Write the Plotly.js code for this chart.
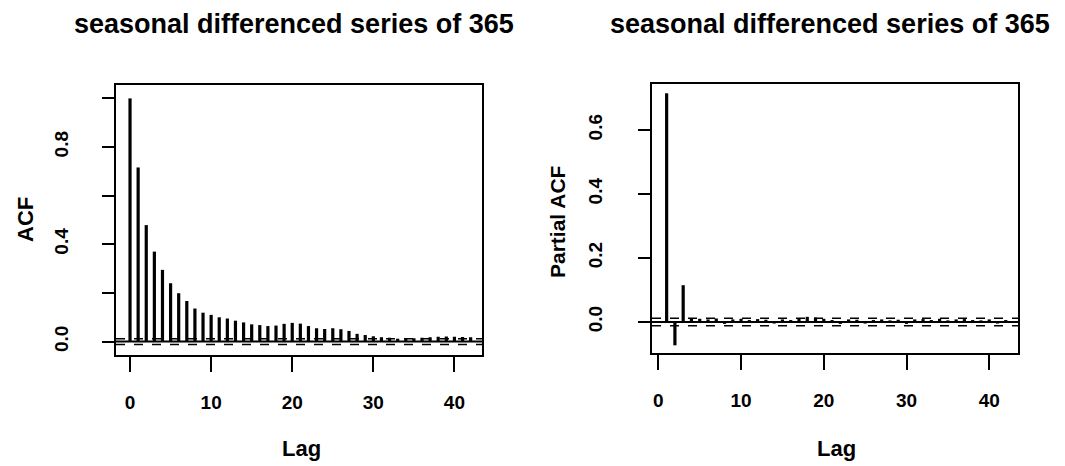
<!DOCTYPE html>
<html>
<head>
<meta charset="utf-8">
<script src="https://cdn.plot.ly/plotly-3.0.1.min.js"></script>
<style>html,body{margin:0;padding:0;background:#fff;}#chart{width:1065px;height:466px;}</style>
</head>
<body>
<div id="chart"></div>
<script>
// ---- data ----
const acfLags = [0,1,2,3,4,5,6,7,8,9,10,11,12,13,14,15,16,17,18,19,20,21,22,23,24,25,26,27,28,29,30,31,32,33,34,35,36,37,38,39,40,41,42];
const acfValues = [1.0,0.716,0.479,0.370,0.295,0.240,0.199,0.167,0.136,0.119,0.110,0.100,0.095,0.086,0.079,0.071,0.068,0.064,0.066,0.073,0.077,0.074,0.064,0.055,0.052,0.055,0.051,0.044,0.032,0.027,0.022,0.018,0.016,0.012,0.012,0.014,0.016,0.018,0.020,0.021,0.020,0.019,0.018];
const pacfLags = [1,2,3,4,5,6,7,8,9,10,11,12,13,14,15,16,17,18,19,20,21,22,23,24,25,26,27,28,29,30,31,32,33,34,35,36,37,38,39,40,41,42];
const pacfValues = [0.715,-0.073,0.115,0.012,0.010,0.008,0.011,-0.006,0.008,0.010,0.006,0.009,0.007,-0.005,0.008,0.006,0.012,0.016,0.014,0.010,0.006,-0.006,0.008,0.007,-0.005,0.006,0.008,0.005,0.007,-0.006,0.008,0.009,0.006,0.010,0.005,0.008,0.009,0.006,0.005,0.008,-0.005,0.006];
const confLimit = 0.012;
const titleText = "seasonal differenced series of 365";
const xLabel = "Lag";
const yLabelLeft = "ACF";
const yLabelRight = "Partial ACF";
const xTicks = [0,10,20,30,40];
const yTicksLeft = [0,0.2,0.4,0.6,0.8,1.0];
const yTickTextLeft = ["0.0","","0.4","","0.8",""];
const yTicksRight = [0,0.2,0.4,0.6];
const yTickTextRight = ["0.0","0.2","0.4","0.6"];

// ---- helpers ----
const W = 1065, H = 466;
const px = v => v / W;
const py = v => 1 - v / H;
function spikes(lags, vals) {
  const x = [], y = [];
  lags.forEach((l, i) => { x.push(l, l, null); y.push(0, vals[i], null); });
  return {x, y};
}
const s1 = spikes(acfLags, acfValues);
const s2 = spikes(pacfLags, pacfValues);
const font = "Liberation Sans, Arial, Helvetica, sans-serif";

const traces = [
  {type:'scatter', mode:'lines', x:s1.x, y:s1.y, xaxis:'x', yaxis:'y', line:{color:'#000', width:3.2}, hoverinfo:'skip', showlegend:false},
  {type:'scatter', mode:'lines', x:s2.x, y:s2.y, xaxis:'x2', yaxis:'y2', line:{color:'#000', width:3.2}, hoverinfo:'skip', showlegend:false}
];

const axCommon = {showgrid:false, zeroline:false, showline:true, mirror:true, linecolor:'#000', linewidth:2,
  ticks:'outside', tickcolor:'#000', tickwidth:2, tickfont:{family:font, size:19, color:'#000', weight:'bold'}};

const layout = {
  width: W, height: H, margin:{l:0,r:0,t:0,b:0}, paper_bgcolor:'#fff', plot_bgcolor:'#fff', showlegend:false,
  xaxis: Object.assign({}, axCommon, {domain:[px(116), px(482)], range:[-1.73, 43.4], tickvals:xTicks, ticklen:15, ticklabelstandoff:14, anchor:'y'}),
  yaxis: Object.assign({}, axCommon, {domain:[py(355), py(85)], range:[-0.055, 1.055], tickvals:yTicksLeft, ticktext:yTickTextLeft, ticklen:12, tickangle:-90, ticklabelstandoff:26, anchor:'x'}),
  xaxis2: Object.assign({}, axCommon, {domain:[px(652), px(1018)], range:[-0.77, 43.48], tickvals:xTicks, ticklen:15, ticklabelstandoff:14, anchor:'y2'}),
  yaxis2: Object.assign({}, axCommon, {domain:[py(353), py(84)], range:[-0.097, 0.744], tickvals:yTicksRight, ticktext:yTickTextRight, ticklen:12, tickangle:-90, ticklabelstandoff:28, anchor:'x2'}),
  shapes: [
    {type:'line', xref:'x domain', yref:'y', x0:0, x1:1, y0:0, y1:0, line:{color:'#000', width:2}},
    {type:'line', xref:'x domain', yref:'y', x0:0, x1:1, y0:confLimit, y1:confLimit, line:{color:'#000', width:1.5, dash:'dash'}},
    {type:'line', xref:'x domain', yref:'y', x0:0, x1:1, y0:-confLimit, y1:-confLimit, line:{color:'#000', width:1.5, dash:'dash'}},
    {type:'line', xref:'x2 domain', yref:'y2', x0:0, x1:1, y0:0, y1:0, line:{color:'#000', width:2}},
    {type:'line', xref:'x2 domain', yref:'y2', x0:0, x1:1, y0:confLimit, y1:confLimit, line:{color:'#000', width:1.5, dash:'dash'}},
    {type:'line', xref:'x2 domain', yref:'y2', x0:0, x1:1, y0:-confLimit, y1:-confLimit, line:{color:'#000', width:1.5, dash:'dash'}}
  ],
  annotations: [
    {text:titleText, xref:'paper', yref:'paper', x:px(294), y:py(24), xanchor:'center', yanchor:'middle', showarrow:false, font:{family:font, size:27, color:'#000', weight:'bold'}},
    {text:titleText, xref:'paper', yref:'paper', x:px(830), y:py(24), xanchor:'center', yanchor:'middle', showarrow:false, font:{family:font, size:27, color:'#000', weight:'bold'}},
    {text:xLabel, xref:'paper', yref:'paper', x:px(301), y:py(448), xanchor:'center', yanchor:'middle', showarrow:false, font:{family:font, size:22, color:'#000', weight:'bold'}},
    {text:xLabel, xref:'paper', yref:'paper', x:px(836), y:py(448), xanchor:'center', yanchor:'middle', showarrow:false, font:{family:font, size:22, color:'#000', weight:'bold'}},
    {text:yLabelLeft, xref:'paper', yref:'paper', x:px(25), y:py(220), xanchor:'center', yanchor:'middle', textangle:-90, showarrow:false, font:{family:font, size:22, color:'#000', weight:'bold'}},
    {text:yLabelRight, xref:'paper', yref:'paper', x:px(557), y:py(222), xanchor:'center', yanchor:'middle', textangle:-90, showarrow:false, font:{family:font, size:21, color:'#000', weight:'bold'}}
  ]
};

Plotly.newPlot('chart', traces, layout, {staticPlot:true, displayModeBar:false});
</script>
</body>
</html>
